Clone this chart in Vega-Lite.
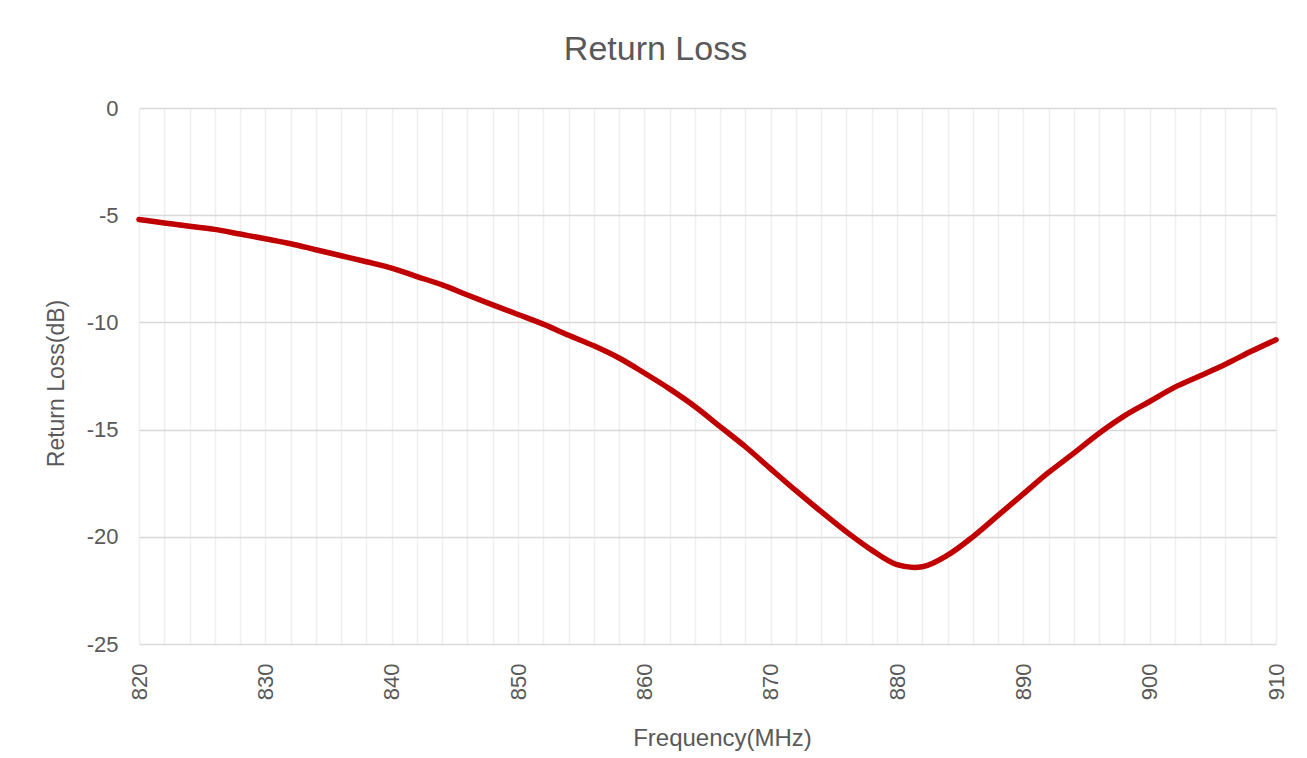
{
  "$schema": "https://vega.github.io/schema/vega-lite/v6.json",
  "autosize": {"type": "none"},
  "width": 1137,
  "height": 536,
  "padding": {"left": 139, "top": 108, "right": 31, "bottom": 114},
  "background": "white",
  "config": {
    "font": "Liberation Sans",
    "view": {"stroke": null},
    "axis": {"labelFont": "Liberation Sans", "titleFont": "Liberation Sans", "labelColor": "#595959", "titleColor": "#595959", "titleFontWeight": "normal", "domain": false, "ticks": false}
  },
  "title": {"text": "Return Loss", "fontSize": 34, "fontWeight": "normal", "color": "#595959", "font": "Liberation Sans", "anchor": "middle", "dx": -52, "offset": 30},
  "data": {"values": [
    {"f": 820, "rl": -5.2},
    {"f": 822, "rl": -5.36},
    {"f": 824, "rl": -5.52},
    {"f": 826, "rl": -5.66},
    {"f": 828, "rl": -5.88},
    {"f": 830, "rl": -6.1},
    {"f": 832, "rl": -6.33},
    {"f": 834, "rl": -6.61},
    {"f": 836, "rl": -6.89},
    {"f": 838, "rl": -7.17},
    {"f": 840, "rl": -7.47},
    {"f": 842, "rl": -7.86},
    {"f": 844, "rl": -8.25},
    {"f": 846, "rl": -8.72},
    {"f": 848, "rl": -9.18},
    {"f": 850, "rl": -9.63},
    {"f": 852, "rl": -10.08},
    {"f": 854, "rl": -10.6},
    {"f": 856, "rl": -11.09},
    {"f": 858, "rl": -11.66},
    {"f": 860, "rl": -12.36},
    {"f": 862, "rl": -13.1},
    {"f": 864, "rl": -13.92},
    {"f": 866, "rl": -14.86},
    {"f": 868, "rl": -15.8},
    {"f": 870, "rl": -16.83},
    {"f": 872, "rl": -17.85},
    {"f": 874, "rl": -18.83},
    {"f": 876, "rl": -19.77},
    {"f": 878, "rl": -20.62},
    {"f": 880, "rl": -21.3},
    {"f": 882, "rl": -21.4},
    {"f": 884, "rl": -20.86},
    {"f": 886, "rl": -20.0},
    {"f": 888, "rl": -19.0},
    {"f": 890, "rl": -18.0},
    {"f": 892, "rl": -17.0},
    {"f": 894, "rl": -16.1},
    {"f": 896, "rl": -15.17},
    {"f": 898, "rl": -14.36},
    {"f": 900, "rl": -13.69},
    {"f": 902, "rl": -13.02},
    {"f": 904, "rl": -12.49},
    {"f": 906, "rl": -11.95},
    {"f": 908, "rl": -11.36},
    {"f": 910, "rl": -10.81}
  ]},
  "mark": {"type": "line", "color": "#c00000", "strokeWidth": 5.5, "interpolate": "catmull-rom", "strokeCap": "round"},
  "encoding": {
    "x": {
      "field": "f", "type": "quantitative",
      "scale": {"domain": [820, 910], "nice": false, "zero": false},
      "axis": {
        "title": "Frequency(MHz)",
        "values": [820,822,824,826,828,830,832,834,836,838,840,842,844,846,848,850,852,854,856,858,860,862,864,866,868,870,872,874,876,878,880,882,884,886,888,890,892,894,896,898,900,902,904,906,908,910],
        "labelExpr": "datum.value % 10 === 0 ? datum.label : ''",
        "labelOverlap": false,
        "labelAngle": -90,
        "labelAlign": "right",
        "labelBaseline": "middle",
        "labelPadding": 19,
        "labelFontSize": 22,
        "gridColor": "#efefef",
        "gridWidth": 1.5,
        "titleFontSize": 24,
        "titlePadding": 27,
        "titleX": 583
      }
    },
    "y": {
      "field": "rl", "type": "quantitative",
      "scale": {"domain": [-25, 0], "nice": false, "zero": false},
      "axis": {
        "title": "Return Loss(dB)",
        "values": [-25, -20, -15, -10, -5, 0],
        "labelExpr": "replace(datum.label, '\u2212', '-')",
        "labelPadding": 21,
        "labelFontSize": 22,
        "gridColor": "#d9d9d9",
        "gridWidth": 1.5,
        "titleFontSize": 23,
        "titlePadding": 18,
        "titleY": 275
      }
    }
  }
}
